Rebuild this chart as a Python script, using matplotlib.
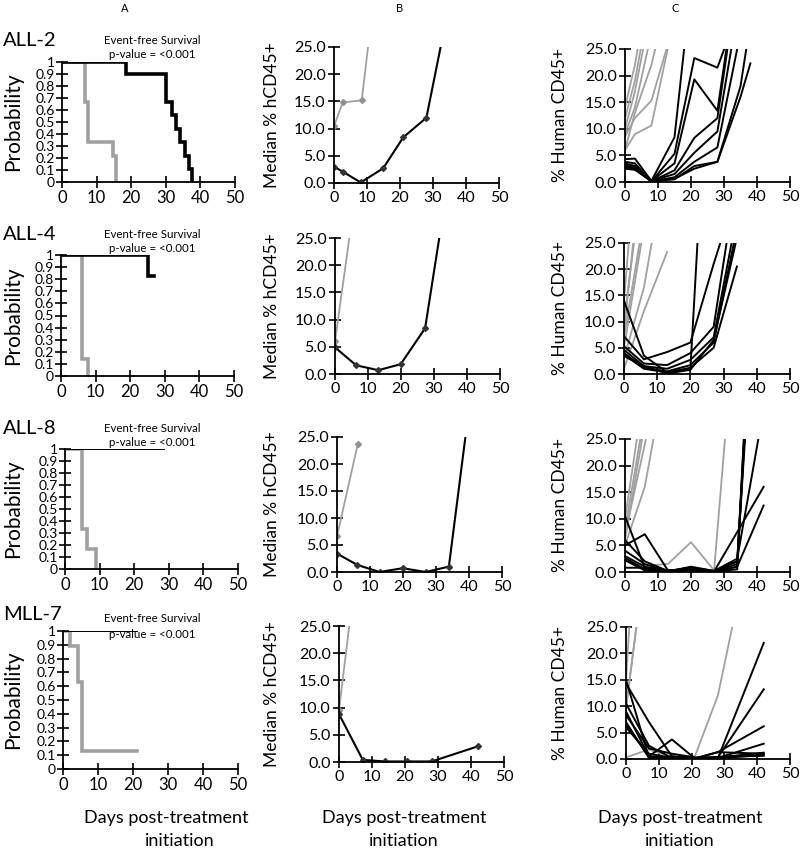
import matplotlib
matplotlib.use('Agg')
import matplotlib.pyplot as plt

plt.rcParams['font.family'] = ['Lato', 'DejaVu Sans']

# ---------------- data ----------------
rows = ["ALL-2", "ALL-4", "ALL-8", "MLL-7"]
xticks = [0, 10, 20, 30, 40, 50]
prob_ticks = [0, 0.1, 0.2, 0.3, 0.4, 0.5, 0.6, 0.7, 0.8, 0.9, 1]
prob_labels = ["0", "0.1", "0.2", "0.3", "0.4", "0.5", "0.6", "0.7", "0.8", "0.9", "1"]
pct_ticks = [0, 5, 10, 15, 20, 25]
pct_labels = ["0.0", "5.0", "10.0", "15.0", "20.0", "25.0"]

# Kaplan-Meier (event-free survival) step data
km1_black_t = [0, 18.5, 30, 31.7, 33, 34, 35.5, 36.6, 37.6]
km1_black_s = [1, 0.9, 0.67, 0.56, 0.44, 0.33, 0.22, 0.11, 0]
km1_gray_t = [0, 6.6, 7.6, 14.6, 15.5]
km1_gray_s = [1, 0.67, 0.33, 0.22, 0]
km2_black_t = [0, 25, 27]
km2_black_s = [1, 0.83, 0.83]
km2_gray_t = [0, 6, 7.9]
km2_gray_s = [1, 0.14, 0]
km3_black_t = [0, 28.5]
km3_black_s = [1, 1]
km3_gray_t = [0, 5, 6.5, 9]
km3_gray_s = [1, 0.33, 0.17, 0]
km4_black_t = [0, 21]
km4_black_s = [1, 1]
km4_gray_t = [0, 2, 4.3, 5.5, 21]
km4_gray_s = [1, 0.89, 0.63, 0.13, 0.13]

# Median % hCD45+ (column B)
b1_black_x = [0, 2.6, 8.1, 14.9, 21, 28, 35]
b1_black_y = [3.0, 2.1, 0.1, 2.7, 8.4, 12.0, 33.1]
b1_gray_x = [0, 2.6, 8.4, 15]
b1_gray_y = [10.4, 14.8, 15.2, 49]
b2_black_x = [0, 6.4, 13.1, 19.9, 27.3, 34]
b2_black_y = [4.9, 1.6, 0.7, 1.8, 8.4, 34.3]
b2_gray_x = [0, 6.4]
b2_gray_y = [6.0, 34]
b3_black_x = [0, 6.2, 12.9, 19.9, 26.9, 33.9, 41]
b3_black_y = [3.4, 1.3, 0.0, 0.7, 0.0, 1.0, 35]
b3_gray_x = [0, 6.3]
b3_gray_y = [6.6, 23.7]
b4_black_x = [0, 7.2, 13.9, 20.7, 28.1, 42.2]
b4_black_y = [8.8, 0.4, 0.1, 0.1, 0.1, 2.9]
b4_gray_x = [0, 7]
b4_gray_y = [9.5, 44.5]

# Individual mice % human CD45+ (column C)
c1_days = [0, 3, 8, 15, 21, 28, 35, 38]
c1_gray = [[14, 22, 40], [12, 19, 36], [10, 17, 33], [9, 14, 28],
           [8.5, 12, 15.3, 30.1], [6, 9, 10.6, 31], [6, 13, 22, 40]]
c1_black = [[4.3, 4.4, 0.2, 8.4, 42.6],
            [3.8, 3.5, 0.1, 5.3, 23.3, 21.5, 33.3],
            [3.5, 3.0, 0.2, 3.5, 19.3, 13.4, 43],
            [3.2, 2.9, 0.1, 2.2, 8.3, 12.0, 42],
            [3.0, 2.7, 0.2, 1.5, 5.5, 9.5, 35.3],
            [2.8, 2.5, 0.1, 0.9, 3.8, 6.5, 28.1],
            [2.6, 2.4, 0.1, 0.6, 2.5, 3.8, 18, 30],
            [2.5, 2.3, 0.2, 0.5, 3.0, 3.8, 16, 22.3]]
c2_days = [0, 6, 13, 20, 27, 34]
c2_gray = [[14, 60], [10, 40], [7, 30], [3, 16.5, 42], [1, 12, 23.3], [8, 45], [5, 28]]
c2_black = [[14, 3.5, 0.3, 1.0, 80],
            [7.2, 2.8, 4.2, 6.0, 21, 35],
            [5.3, 2.0, 1.7, 4.0, 9.0, 37.8],
            [4.6, 1.5, 1.0, 2.7, 7.0, 30.3],
            [4.0, 1.2, 0.5, 1.7, 6.0, 27.8],
            [3.7, 1.0, 0.3, 1.2, 5.0, 20.5],
            [3.4, 1.5, 0.1, 0.8, 6.5, 26]]
c3_days = [0, 6, 13, 20, 27, 34, 42]
c3_gray = [[10, 35], [8, 30], [6, 28], [5, 16, 40], [7, 24, 45],
           [2.5, 1.2, 1.5, 5.6, 0.3, 52.7]]
c3_black = [[10.5, 0.8, 0.1, 0.5, 0.1, 0.5, 97],
            [6.0, 2.0, 0.2, 0.8, 0.1, 1.0, 90],
            [5.0, 7.1, 0.3, 0.3, 0.1, 2.0, 80],
            [4.0, 1.5, 0.1, 1.0, 0.2, 2.5, 30.6],
            [2.6, 0.5, 0.2, 0.6, 0.1, 1.5, 95],
            [2.2, 0.3, 0.1, 0.4, 0.1, 7.5, 16],
            [0.8, 0.8, 0.3, 0.5, 0.1, 1.0, 12.5],
            [3.0, 1.0, 0.2, 0.8, 0.2, 2.0, 85]]
c4_days = [0, 7, 14, 21, 28, 35, 42]
c4_gray = [[15, 85], [10, 42.8], [9.5, 44],
           [0.3, 1.8, 0.3, 0.5, 12, 32.7]]
c4_black_days = [0, 7, 14, 21, 28, 42]
c4_black = [[15, 0.3, 0.2, 0.1, 0.1, 22],
            [14.3, 7.0, 0.5, 0.2, 0.3, 13.2],
            [10.5, 2.5, 0.2, 0.1, 1.3, 6.2],
            [9.0, 0.5, 3.7, 0.1, 0.2, 2.9],
            [8.3, 2.0, 1.0, 0.3, 0.3, 1.2],
            [7.0, 0.2, 0.5, 0.1, 1.3, 1.0],
            [6.5, 0.5, 0.3, 0.2, 0.1, 0.8],
            [6.0, 1.0, 0.2, 0.1, 0.4, 0.6]]

# ---------------- drawing ----------------
W, H = 800, 851
fig = plt.figure(figsize=(8, 8.51), dpi=100)
GRAY = '#a0a0a0'

def add_ax(x0, x1, y0, y1):
    return fig.add_axes([x0 / W, 1 - y1 / H, (x1 - x0) / W, (y1 - y0) / H])

def style(ax, ylim, yticks, ylabels, fs):
    ax.set_xlim(0, 50)
    ax.set_ylim(*ylim)
    for s in ['top', 'right']:
        ax.spines[s].set_visible(False)
    for s in ['left', 'bottom']:
        ax.spines[s].set_linewidth(1.3)
    ax.set_xticks(xticks)
    ax.set_yticks(yticks)
    ax.set_yticklabels(ylabels)
    ax.tick_params(direction='inout', length=8, width=1.2, labelsize=fs, pad=2)
    ax.patch.set_alpha(0)

# axes positions (pixels): x0, x1, ytop, ybottom
a_pos = [(62, 235, 62, 182), (61, 234, 255, 376), (65, 238, 449, 569), (63, 238, 631, 769)]
b_pos = [(334, 499, 47, 183), (335, 500, 238, 374), (337, 502, 437, 572), (339, 504, 626, 762)]
c_pos = [(625, 790, 49, 182), (624, 790, 243, 374), (625, 790, 439, 572), (626, 790, 627, 759)]

km_data = [
    (km1_black_t, km1_black_s, km1_gray_t, km1_gray_s, 2.6),
    (km2_black_t, km2_black_s, km2_gray_t, km2_gray_s, 2.6),
    (km3_black_t, km3_black_s, km3_gray_t, km3_gray_s, 1.4),
    (km4_black_t, km4_black_s, km4_gray_t, km4_gray_s, 1.4),
]
ev_y = [(40, 55), (234, 249), (428, 443), (619, 634)]
row_y = [41, 235, 428, 615]
for i, (bt, bs, gt, gs, blw) in enumerate(km_data):
    ax = add_ax(*a_pos[i])
    ax.step(gt, gs, where='post', color=GRAY, lw=2.6, solid_joinstyle='miter')
    ax.step(bt, bs, where='post', color='black', lw=blw, solid_joinstyle='miter')
    style(ax, (0, 1), prob_ticks, prob_labels, 12)
    ax.tick_params(axis='y', length=8, labelsize=10, pad=1)
    fig.text(3 / W, 1 - row_y[i] / H, rows[i], fontsize=14.5, ha='left', va='center')
    fig.text(152 / W, 1 - ev_y[i][0] / H, "Event-free Survival", fontsize=8.3, ha='center', va='center')
    fig.text(152 / W, 1 - ev_y[i][1] / H, "p-value = <0.001", fontsize=8.3, ha='center', va='center')
    yc = (a_pos[i][2] + a_pos[i][3]) / 2
    fig.text(13 / W, 1 - yc / H, "Probability", fontsize=15, rotation=90, ha='center', va='center')

b_data = [
    (b1_black_x, b1_black_y, b1_gray_x, b1_gray_y),
    (b2_black_x, b2_black_y, b2_gray_x, b2_gray_y),
    (b3_black_x, b3_black_y, b3_gray_x, b3_gray_y),
    (b4_black_x, b4_black_y, b4_gray_x, b4_gray_y),
]
for i, (bx, by, gx, gy) in enumerate(b_data):
    ax = add_ax(*b_pos[i])
    ax.plot(gx, gy, color=GRAY, lw=1.3, marker='D', ms=3, mfc='#909090', mec='#909090')
    ax.plot(bx, by, color='black', lw=1.5, marker='D', ms=3, mfc='#333333', mec='#333333')
    style(ax, (0, 25), pct_ticks, pct_labels, 11.5)
    yc = (b_pos[i][2] + b_pos[i][3]) / 2
    fig.text(272 / W, 1 - yc / H, "Median % hCD45+", fontsize=12.5, rotation=90, ha='center', va='center')

c_data = [
    (c1_days, c1_gray, c1_days, c1_black),
    (c2_days, c2_gray, c2_days, c2_black),
    (c3_days, c3_gray, c3_days, c3_black),
    (c4_days, c4_gray, c4_black_days, c4_black),
]
for i, (gd, gser, bd, bser) in enumerate(c_data):
    ax = add_ax(*c_pos[i])
    for s in gser:
        ax.plot(gd[:len(s)], s, color=GRAY, lw=1.3)
    for s in bser:
        ax.plot(bd[:len(s)], s, color='black', lw=1.4)
    style(ax, (0, 25), pct_ticks, pct_labels, 11.5)
    yc = (c_pos[i][2] + c_pos[i][3]) / 2
    fig.text(560 / W, 1 - yc / H, "% Human CD45+", fontsize=12.5, rotation=90, ha='center', va='center')

# column headers
fig.text(125 / W, 1 - 8 / H, "A", fontsize=8, ha='center', va='center')
fig.text(400 / W, 1 - 8 / H, "B", fontsize=8, ha='center', va='center')
fig.text(675 / W, 1 - 8 / H, "C", fontsize=8, ha='center', va='center')

# bottom x labels
for xc1, xc2 in [(166, 180), (404, 404), (680, 680)]:
    fig.text(xc1 / W, 1 - 818 / H, "Days post-treatment", fontsize=13, ha='center', va='center')
    fig.text(xc2 / W, 1 - 841 / H, "initiation", fontsize=13, ha='center', va='center')

fig.savefig('out.png', dpi=100)
